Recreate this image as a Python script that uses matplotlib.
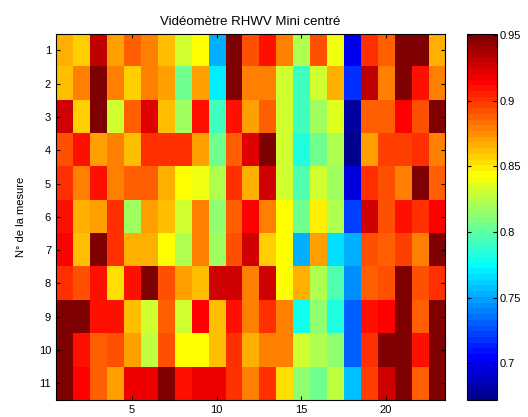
import numpy as np
import matplotlib.pyplot as plt
from matplotlib.colors import ListedColormap

plt.rcParams['font.family'] = ['Liberation Sans', 'DejaVu Sans']

title = "Vidéomètre RHWV Mini centré"
ylabel = "N° de la mesure"
x_ticks = [5, 10, 15, 20]
y_ticks = list(range(1, 12))
cbar_ticks = [0.7, 0.75, 0.8, 0.85, 0.9, 0.95]
vmin, vmax = 0.672, 0.951

# one list per measurement (row), 23 positions each
m1 = [0.864, 0.856, 0.930, 0.870, 0.887, 0.881, 0.860, 0.830, 0.846, 0.753, 0.951, 0.892,
      0.909, 0.881, 0.821, 0.892, 0.842, 0.699, 0.899, 0.887, 0.951, 0.951, 0.867]
m2 = [0.860, 0.877, 0.951, 0.881, 0.856, 0.881, 0.870, 0.803, 0.870, 0.770, 0.951, 0.877,
      0.881, 0.830, 0.794, 0.830, 0.867, 0.716, 0.930, 0.879, 0.951, 0.909, 0.877]
m3 = [0.925, 0.856, 0.951, 0.832, 0.887, 0.922, 0.860, 0.816, 0.911, 0.794, 0.910, 0.870,
      0.887, 0.830, 0.794, 0.816, 0.836, 0.678, 0.887, 0.887, 0.916, 0.892, 0.951]
m4 = [0.892, 0.909, 0.870, 0.879, 0.860, 0.899, 0.899, 0.899, 0.870, 0.807, 0.887, 0.922,
      0.951, 0.830, 0.785, 0.807, 0.821, 0.674, 0.870, 0.897, 0.897, 0.899, 0.881]
m5 = [0.901, 0.877, 0.910, 0.877, 0.887, 0.887, 0.864, 0.846, 0.842, 0.821, 0.899, 0.867,
      0.925, 0.832, 0.798, 0.829, 0.816, 0.695, 0.899, 0.892, 0.881, 0.951, 0.887]
m6 = [0.910, 0.864, 0.870, 0.899, 0.816, 0.870, 0.860, 0.829, 0.879, 0.812, 0.887, 0.916,
      0.881, 0.846, 0.803, 0.850, 0.821, 0.724, 0.925, 0.892, 0.910, 0.899, 0.916]
m7 = [0.916, 0.860, 0.951, 0.899, 0.864, 0.867, 0.846, 0.821, 0.877, 0.816, 0.892, 0.925,
      0.856, 0.846, 0.753, 0.870, 0.767, 0.753, 0.892, 0.889, 0.897, 0.881, 0.951]
m8 = [0.899, 0.892, 0.909, 0.854, 0.910, 0.951, 0.892, 0.870, 0.860, 0.925, 0.925, 0.881,
      0.925, 0.846, 0.864, 0.821, 0.798, 0.744, 0.887, 0.892, 0.951, 0.892, 0.899]
m9 = [0.951, 0.951, 0.910, 0.909, 0.860, 0.832, 0.887, 0.832, 0.916, 0.860, 0.910, 0.879,
      0.899, 0.881, 0.777, 0.815, 0.785, 0.733, 0.909, 0.913, 0.951, 0.887, 0.951]
m10 = [0.951, 0.909, 0.887, 0.892, 0.870, 0.825, 0.892, 0.846, 0.846, 0.860, 0.899, 0.866,
       0.881, 0.881, 0.830, 0.821, 0.815, 0.729, 0.899, 0.951, 0.951, 0.909, 0.951]
m11 = [0.951, 0.916, 0.887, 0.870, 0.919, 0.919, 0.951, 0.909, 0.920, 0.920, 0.899, 0.881,
       0.899, 0.851, 0.812, 0.803, 0.825, 0.757, 0.897, 0.925, 0.951, 0.887, 0.951]

data = np.array([m1, m2, m3, m4, m5, m6, m7, m8, m9, m10, m11])
nrow, ncol = data.shape

# MATLAB-style jet(64)
m = 64
n = m // 4
u = np.concatenate([np.arange(1, n + 1) / n, np.ones(n - 1), np.arange(n, 0, -1) / n])
g = n // 2 + np.arange(len(u))
r, b = g + n, g - n
cols = np.zeros((m, 3))
for ch, idx in enumerate([r, g, b]):
    ok = (idx >= 0) & (idx < m)
    cols[idx[ok], ch] = u[ok]
jet64 = ListedColormap(cols)

fig = plt.figure(figsize=(5.28, 4.17), dpi=100)
ax = fig.add_axes([0.106, 0.041, 0.737, 0.878])
cax = fig.add_axes([0.885, 0.041, 0.056, 0.878])

im = ax.imshow(data, cmap=jet64, vmin=vmin, vmax=vmax,
               aspect='auto', interpolation='nearest',
               extent=(0.5, ncol + 0.5, nrow + 0.5, 0.5))
ax.set_xticks(x_ticks)
ax.set_yticks(y_ticks)
ax.tick_params(direction='in', top=True, right=True, length=3, labelsize=8)
ax.set_title(title, fontsize=9.5, pad=6)
ax.set_ylabel(ylabel, fontsize=8, labelpad=9)

cb = fig.colorbar(im, cax=cax, ticks=cbar_ticks)
cb.ax.tick_params(direction='in', left=True, right=True, length=3, labelsize=8, pad=2)
cb.ax.set_yticklabels([f"{t:g}" for t in cbar_ticks])
cb.outline.set_linewidth(0.8)

fig.savefig("out.png", dpi=100)
